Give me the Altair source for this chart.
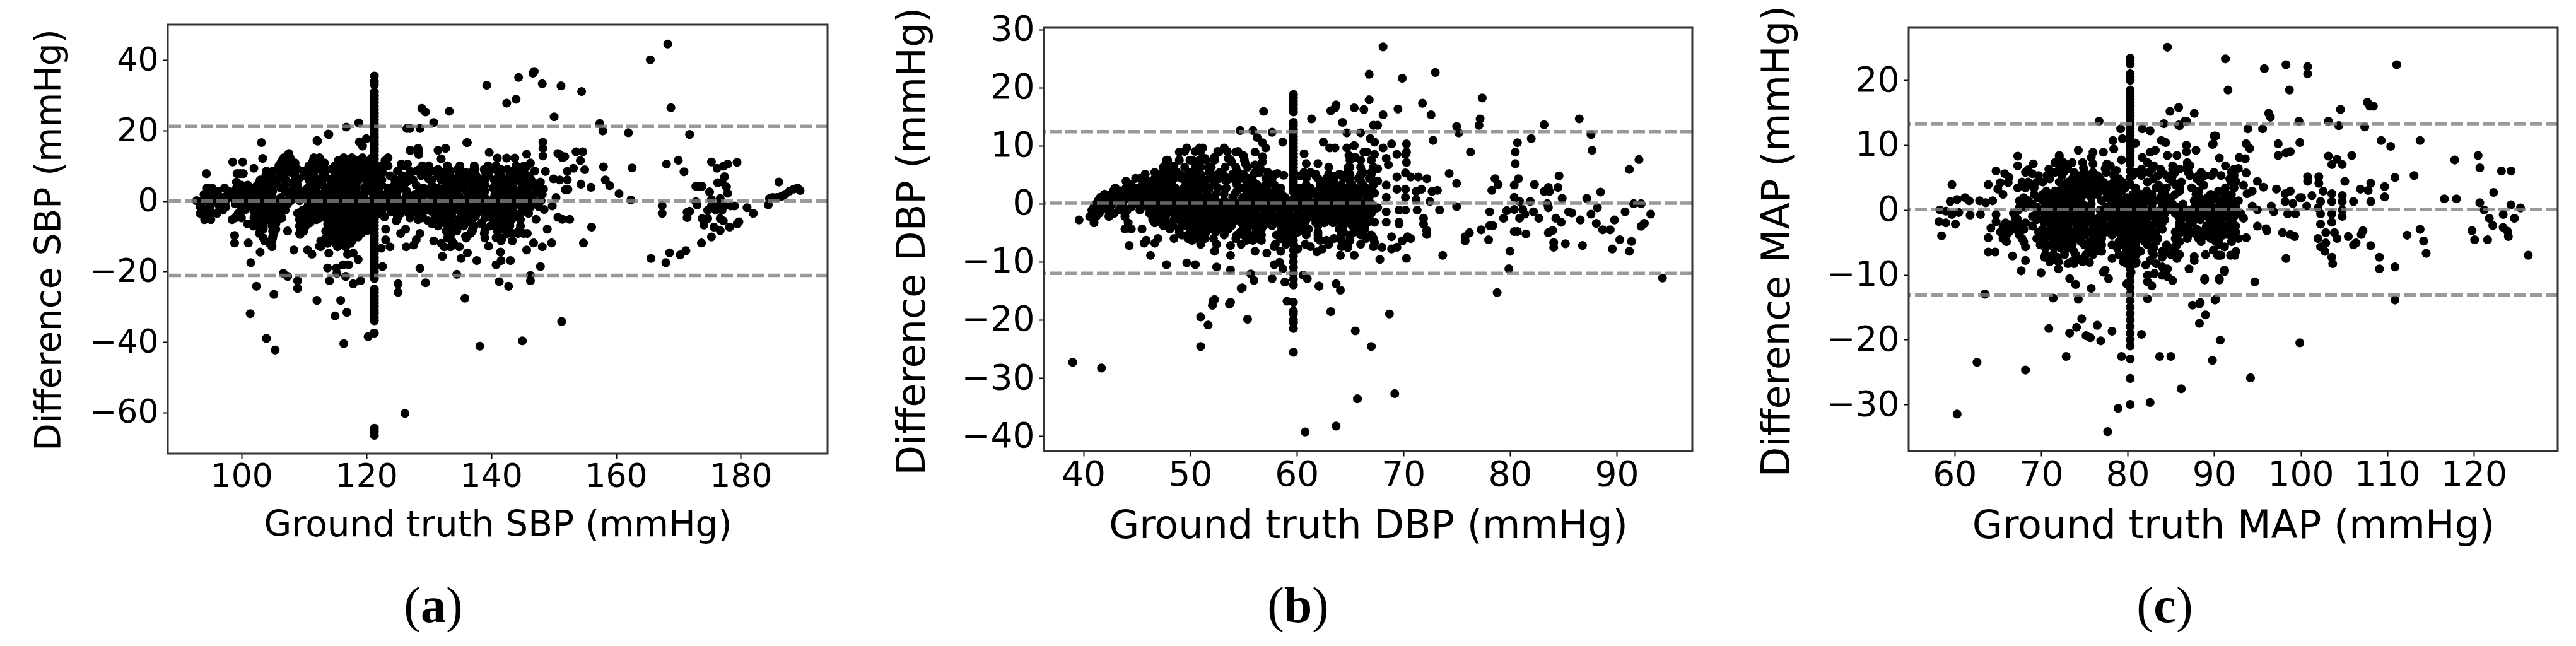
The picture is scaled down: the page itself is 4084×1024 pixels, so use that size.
import altair as alt
import pandas as pd

# ---------- panel (a) SBP ----------
sbp_lines = [21.2, 0.1, -21.1]
sbp_xticks = [100, 120, 140, 160, 180]
sbp_yticks = [-60, -40, -20, 0, 20, 40]
sbp_spike_x = 121.3
sbp_spike_y = [35.5,34,33,31,30,29,28,27,26,25,24,23,22,21,20,19,18,17,16,15,14,13,12,11,10,9,8,7,6,5,4,3,2,1,0,-1,-2,-3,-4,-5,-6,-7,-8,-9,-10,-11,-12,-13,-14,-15,-16,-17,-18,-19,-20,-21,-22,-25,-26,-27,-28,-29,-30,-31,-32,-33,-34,-37.5,-64.5,-65.5,-66.5]
sbp_upper = [(168.3,44.6),(165.5,40.1),(168.8,26.5),(139.3,32.9),(144.4,35.1),(146.7,36.3),(146.9,36.8),(148.2,33.3),(151.2,32.7),(154.5,31.1),(144,28.9),(142.5,27.8),(150.1,23.9),(128.9,26.3),(129.5,25.3),(133.3,25.5),(130.8,22.3),(126.5,20.6),(127,20.6),(128.6,20.6),(157.4,22),(157.9,19.9),(162,19.4),(171.8,18.9),(116.8,21),(118.8,22.2),(113.9,19),(112.2,17),(103.2,16.6),(136.1,16.6),(132.7,15),(131.5,14.4),(128.4,14.4),(128.4,13.2),(127.1,14.4),(148.3,16.7),(148.3,15),(148.3,12.8),(151,13.2),(151.8,12.6),(153.6,14),(154.7,14),(154.3,11.5),(155,8.9),(170,11.6),(168.1,10.5),(170.9,8.3),(162.6,9.4),(158,9.7),(158.3,6),(159,4.4),(160.5,2.1),(162.4,0.3),(156,3.9),(152.3,3.3),(154.4,4.8),(94.4,7.8),(98.6,11.1),(100.2,11.1),(99.3,7.8),(99.8,7.8),(100.3,7.8),(102,9.3),(103.4,12.1),(112.1,17.2),(114,18.9),(118.9,16.8),(119.4,15.6),(120,17.7),(127,14.4),(128.3,15),(128.3,13.5),(132.7,15),(136.2,16.6),(139.7,13.8),(132,12),(125.6,10.5),(126.6,10.5),(145.7,13.3),(143.8,12.2),(142.5,12.2),(141,12.2),(146.3,10.8),(145.2,9.9),(148.7,8.4),(150,6.3),(151,6),(150.7,13.5),(151.4,12.3),(152.2,6),(153.2,9.3),(152.2,8.4),(151.9,3.2),(148.4,3.4),(150.4,1),(149.8,-1.4),(148.5,-2.4)]
sbp_right = [(186.1,5.4),(184.4,-1.1),(184.6,0.7),(185.1,1),(185.8,1),(186.5,1.3),(187.1,1.9),(187.8,2.8),(188.5,3.4),(189.1,3.7),(189.5,3),(181,-1.9),(182,-3.5),(179.4,11),(177.9,10.5),(177.2,9.9),(176.2,9.3),(175.3,11.1),(177.4,6.9),(176.3,5.2),(177,5.4),(177.7,4),(177.9,2.2),(175,2.6),(172.8,4.2),(173.3,4.2),(173.8,4.2),(172.8,-0.2),(173,-1.1),(175.3,0.4),(176.7,0.7),(175.3,-1.4),(176.3,-1.4),(177.3,-1.4),(178.4,-1.4),(179,-1.4),(174.7,-2.6),(176,-2.6),(177,-2.6),(173.8,-5),(174.7,-5),(176.7,-5),(174.1,-6.8),(175.7,-7.4),(176.7,-8.4),(178.2,-7.4),(179.4,-6.5),(179.7,-5.9),(177.2,-5.6),(175.3,-10.2),(173.7,-11.9),(171.2,-14.1),(170.3,-15.3),(168.6,-14.7),(168,-17.5),(165.6,-16.3),(171.4,-3.2),(171.8,-2.9),(171.4,-4.7),(167.4,-1.3),(167.4,-3.5)]
sbp_lower = [(151.3,-34.2),(156.1,-7.4),(154.8,-11.9),(147.9,-18.6),(146.3,-21.1),(146.3,-22.6),(142.8,-24.2),(141.3,-22.9),(143.1,-16.9),(141.6,-16.9),(141.5,-14.5),(149.7,-11.9),(148.2,-13),(146.8,-11.9),(145.7,-13.9),(152.6,-5.2),(151.4,-5.2),(150.7,-4.6),(149,-8),(147.2,-5.2),(98.9,-9.8),(98.9,-11.9),(101.1,-11.9),(103,-14.5),(101.5,-17.5),(102.4,-24.2),(105.2,-26.5),(101.4,-32),(104,-39),(105.4,-42.3),(116.4,-40.5),(120.3,-38.5),(121.2,-37.5),(138.2,-41.2),(145,-39.7),(126.2,-60.3),(107.4,-8.5),(108.4,-13.9),(109.4,-7.4),(109.4,-9.5),(110.6,-13.9),(111.3,-15.1),(106.7,-20.5),(107.4,-21.4),(109,-22.6),(109,-24.8),(112.1,-28.2),(115.9,-28.2),(116.9,-31.6),(115,-32.6),(112.5,-12.8),(113,-11.3),(114,-14.8),(113.8,-19),(115.2,-19),(115.3,-20.5),(114.1,-22.6),(116.7,-21.4),(117.9,-23.5),(119.1,-22.6),(117,-15.1),(117.9,-14.8),(118.7,-16.6),(116.3,-18.1),(117.2,-18.1),(122.6,-18.6),(125.1,-23.5),(125.1,-25.9),(128.6,-19.1),(129.5,-23.2),(134.5,-20.8),(135.8,-27.6),(137.7,-16.9),(140.8,-18.1),(135.2,-16.3),(136.2,-14.7),(132.2,-15.7),(132.5,-13),(133.5,-13),(134.9,-13),(130.8,-11.3),(126.4,-13),(127.6,-12.5),(128,-11),(128.6,-9.2),(125.5,-9.2),(126.3,-8),(123.8,-13),(123.1,-11),(122.4,-13.4),(123.1,-8),(122.9,-4.5),(124.8,-5.6),(129.9,-5.6),(135.9,-10),(139.6,-12.8),(140.8,-10.4),(141.6,-11.3),(143.4,-11.3),(144.4,-8.5)]
sbp_levels = [13.5,12.3,10.8,9,7.2,5.4,3.7,1.9,0.1,-1.7,-3.5,-5.3,-7.1,-9.2,-11.3,-13]
sbp_rows = [
 [107.6],
 [106.8,107.8,111.6,112.5,116.4,117.7,119.4,120.9,123.5],
 [106.3,107.6,108.6,111.3,113.3,115.7,117,118.4,119.4,121.1,123.1],
 [105.9,109,110.6,112,114.4,115.4,116.7,118,119.4,120.7,122.4,128.5,129.7,131.5,134.6,137.4,138.9,140,141.6,142.6,143.8,145.3],
 [103.9,106.3,108.6,110,111.6,113.3,115,116.4,117.7,119,121.1,123.8,125.8,127,128.8,131.5,133.4,134.8,136.3,137.6,139.6,141.6,143,144,145,146],
 [99.2,102.9,104.2,105.6,108.3,111.3,114.4,115.7,117,118.4,121.1,125.1,126.5,133.4,134.6,136.6,137.9,141.3,142.3,143.6,144.7,145.7,146.7,147.9],
 [94.5,95.3,97.3,99.2,100.5,101.9,103.2,104.6,106.3,108.3,110.6,112,113.7,115,116.4,117.7,119.7,121.1,123.5,125.8,129.2,131.5,133.6,134.9,136.9,138.3,140.3,141,142.3,143.6,145,146,147.3],
 [94,94.8,97.8,99.2,100.2,101.5,103.4,104.6,108.6,110,111.3,112.7,114,115.4,116.7,118,119.4,121.1,123.1,124.5,126.5,127.8,129.5,131.2,133.2,134.6,136.6,138.3,140.6,141.6,143,144.3,145.7,147,148.2],
 [92.8,93.8,94.8,96.1,97.5,99.5,101.2,102.5,103.9,105.2,106.6,107.9,109.3,110.6,112,113.3,114.7,116,117.4,118.7,120.1,121.4,123.1,124.1,125.8,127.1,128.5,130.7,131.9,133.2,134.6,135.9,137.3,139.6,141.3,142.6,144,145.3,146.7,148],
 [93.4,94.8,96.5,97.5,100,101.5,102.9,104.2,105.6,106.9,110.6,112,113.3,114.7,116,117.4,118.7,120.1,121.4,122.8,124.1,125.5,126.8,128.2,129.2,130.9,132.2,133.6,134.9,136.3,137.6,138.9,140.6,141,142.3,143.6,145,146.3,147.7],
 [93.4,94.5,96.1,99.5,102.2,103.6,104.9,106.3,109,110.3,112,115,116.4,117.7,119,120.7,122.1,125.5,126.8,128.2,131.2,132.5,135.2,136.9,139.3,140.6,141.3,142.6,144.7,146],
 [94.1,95.1,98.5,102.9,104.2,105.9,109.3,112,114,115.4,116.7,118,119.7,121.1,128.3,131.2,133.2,136.6,140.3,141,142,143.3,144.7],
 [101.9,102.9,104.9,109.3,110.3,114.4,115.7,117,118.4,121.1,131.5,133.6,135.6,137.3,139.9,141.6,143,144.7],
 [102.9,105.2,109.3,114,115.4,116.7,118,119.2,133.6,136.7,138.9,142.6,143.5,144.3,145.2,145.8],
 [103.7,104.9,112.7,114,115.4,116.7,117.7,133.7],
 [104.9,112.7,115.4,116.7],
]
sbp_fill_levels = [8.1,6.3,4.5,2.8,1,-0.8,-2.6,-4.4,-6.2,-8,-10.2,11.5,10,8.5,6,-3,-4.8,-6.5,-8.5,-10.5,-12]
sbp_fill_rows = [
 [106.9,108,111,113,115,116,117.4,118.7,120,122.6,130,132.5,136,139.2,143,145],
 [104.5,105.2,107,109.2,112.5,114,115,116,117.4,118.7,120,122,124.5,127,130,132.3,134,136,138.6,141,142.6,144.3,146.3],
 [100,101,102.5,103.8,105,107,109,111.7,113,114.5,116,117,118.4,120,122.5,124.5,126,128,130.5,132.7,134,135.6,137,139,142,143.2,145.2,147],
 [95,96.2,98,99.8,101,102.6,103.8,105,107,108,109.6,111,112,113.4,114.8,116,117.2,118.4,120,122,123.8,125,126.5,128.5,130.5,132.5,134,136,137.5,139,141.8,143,144.5,146,147.5],
 [94.4,95.5,97,98.5,100,101,102.2,103.5,105,106.3,107.7,109,110.3,111.7,113,114.4,115.7,117,118.3,119.6,122.4,123.6,125,126.4,127.7,129,130.5,132,133.4,135,136.3,137.7,139,140.5,142,143.4,144.7,146],
 [93.5,95.2,97,99,100.5,102,103.4,104.7,106,107.4,111,112.6,114,115.4,116.7,118,119.4,122,123.4,124.8,126.2,127.5,129.7,131.5,133,134.3,135.7,137,138.4,139.8,141.8,143,144.4,145.8,147],
 [93.8,95,97,100.5,102.8,104.3,105.6,107,109.8,111.2,112.6,114,115.4,116.7,118,119.4,120.7,124.3,125.7,127.5,129.7,131.5,133,134.3,136,137.4,138.8,140,141.7,143.2,145.2],
 [94.7,99.2,103.3,105,106,110,111,112.7,114.5,115.8,117,118.4,119.7,125,127,129,131.8,133.7,135.6,137.5,139.5,141.5,143,144.2],
 [102,103,105,110,111,115,116.3,117.7,119,120.3,132.5,134,136,138.5,141,143],
 [103.5,105.5,110,114.7,116,117.4,118.7,120,134,137,142],
 [105,114.7,116,117.3,118.7],
 [106.5,107.6,111.5,112.5,115.5,116.5,117.5,118.5,119.5,120.5,123],
 [106,107,108.5,110.8,112,113.2,115,116,117,118,119,120,122.5,123.5,126,129,130,133,135,137.3,139.5,140.8,144,145.8],
 [104,105,106,108,110,111,113.5,115,116,117,118,119,120,122,125,127,128,129.5,131,133.5,135,137,139,141,143,145,147],
 [103,104.8,105.5,107,108.8,110.8,112,113,115,116.3,117.6,118.8,120,122.5,125.5,127.5,130.5,132,134,135.5,137,139,140.5,143,145,146],
 [102,103.5,105,106,109.5,111,113,114,115,116,117.5,119,120.5,122.5,124,125,127,128.5,130.5,132,133.5,135,136,138,139.5,141.5,143.5,145],
 [99,100,102,103.5,105,106.5,110,111,112.5,113.5,115,116.3,117.5,119,120.3,125,127,129,131,132.5,135,137,139,141,142.5],
 [101,103.5,105.5,110,113.8,115.2,116.4,117.7,119,120.3,130.5,133,135,137,138.5,140.8,142.5],
 [103,105,110,113.5,114.7,116,117.3,118.5,120,132.8,134.5,137,139,141,142.5],
 [103.5,105,113.5,115,116.3,118,133,136,139,141.8],
 [104.5,113.8,115,116,117.5,132,134],
]

# ---------- panel (b) DBP ----------
dbp_lines = [12.4, 0.1, -12]
dbp_xticks = [40, 50, 60, 70, 80, 90]
dbp_yticks = [-40, -30, -20, -10, 0, 10, 20, 30]
dbp_spike_x = 59.7
dbp_spike_y = [18.8,18.2,17.6,17,16.4,15.8,14,13.4,12.8,12.2,11.6,11,10.4,9.8,9.2,8.6,8,7.4,6.8,6.2,5.6,5,4.4,3.8,3.2,2.6,2,-7,-8,-9,-10,-11,-12,-13,-14,-17,-18.5,-19,-20,-20.5,-21.5,-25.6]
dbp_upper = [(68.1,27),(66.8,22.3),(73,22.6),(69.9,21.6),(66.8,17.9),(71.8,17.3),(69.5,16.3),(72.6,15.3),(68.1,15.3),(77.4,18.2),(56.9,15.9),(63.2,16),(63.6,16.5),(63.7,17),(65.4,16.5),(66.3,16.2),(61.4,14.6),(64.3,14),(67.2,13.5),(67.6,13.5),(75,13.3),(75.2,12.2),(77.1,13.5),(77.2,14.6),(83.2,13.6),(86.5,14.6),(87.6,11.9),(87.7,9.2),(82,11.2),(80.7,10.5),(80.5,8.9),(80.5,6.9),(76.3,8.9),(72.8,10.9),(70.3,10.3),(92.1,7.6),(91.2,5.9),(74.3,5.2),(75,3.5),(75,-0.5),(54.7,12.6),(55.9,12.6),(57.7,12.3),(58.7,10.6),(64.7,12.2),(66,12.2),(66.9,11.2),(62.5,10.6),(63.1,9.6),(63.6,9.6),(64.7,9.6),(65.4,10),(66.3,8.9),(64.9,8.3),(65.5,8),(64.8,6.2),(64.3,4.9),(60.7,8.6),(62,6.9),(60.9,6.9),(56.3,11.4),(56.8,10.5),(57.1,9.6),(56.1,8.9),(56.8,8.1),(56.8,7.2),(56.1,6.7),(56.6,6),(58.2,5.2),(58.8,4.9),(49,8.9),(49.7,9.6),(50.9,9.6),(51.2,9.6),(53.2,9.6),(52.7,8.9),(52.3,8),(54.3,8.9),(55,8.3),(55.2,6.9),(53.6,7.8),(53.9,7.2),(50.3,7.4),(51,7.6),(51.4,7.8),(51.8,6.2),(47.9,7.5),(47.6,6.5),(48.5,6.5),(67.3,10.6),(68.1,9.6),(68.9,10.3),(67.3,8.5),(68.4,7.8),(66.6,8.9),(69.4,8.5),(70.2,8.5),(67.6,6),(68.6,6.7),(67.6,3.9),(68.4,3.2),(67.3,1.8),(68.4,1.1),(67.6,-0.7),(68.4,-1.4),(67.3,-3.2),(68.4,-3.2)]
dbp_right = [(84.6,4.8),(78.6,4.3),(78.9,3.3),(78.3,2.3),(80.8,4.3),(80.4,3.2),(82.3,3.3),(83.6,2.8),(83.7,2.1),(83.2,2.1),(84.5,2.8),(84.9,0.9),(88.5,2),(87.2,0.9),(80.4,1.1),(80.9,0.4),(81.9,0.4),(81.2,-1),(82.2,-1.4),(80.4,-1),(81.4,-1.8),(83.5,0),(83.6,-0.7),(79.7,-1.2),(78.1,-1.4),(79.4,-2.5),(80.9,-2.5),(82.7,-2.5),(84.3,-2.5),(84.8,-3.2),(83.6,-5),(84,-4.6),(85.5,-1.4),(85.8,-1.6),(86.6,-2.8),(87.6,-1.8),(88.2,-0.7),(88.1,-3.4),(88.7,-4.5),(89.4,-4.5),(89.8,-2.8),(90.8,-1.4),(91.6,0),(92.3,0),(93.2,-1.8),(92.6,-3.4),(92.3,-3.9),(90.3,-6.2),(89.6,-7.8),(91.4,-6.5),(91.2,-8.2),(94.3,-12.8),(86.8,-7.2),(85.2,-6.9),(84.1,-6.7),(84.1,-7.5),(78.1,-3.8),(78.4,-3.8),(77.3,-4.5),(76.2,-5),(75.8,-5.7),(75.8,-6.4),(78,-6.2),(80.4,-4.8),(80.7,-4.8),(81.5,-5.2),(80,-8.2),(79.9,-11.2),(78.8,-15.3),(73.7,-8.9),(70.3,-9.4),(70.3,8.9),(70.3,7.1),(70.2,5.3),(69.4,4.6),(70.7,4.6),(71.4,4.6),(72.2,4.3),(69.4,2.5),(70.2,2.5),(71.2,2.1),(71.7,2.5),(72.7,2.1),(73.2,2.3),(70.2,1.1),(71.2,0.7),(72.5,0.4),(70.2,-1.1),(71.3,-1.1),(73.4,-1.1),(69.6,-1.1),(69.6,-3.2),(71.9,-2.5),(71.9,-3.5),(72.2,-4.6),(72.2,-5.3),(69.6,-3.5),(70.4,-5.7),(70.7,-6),(69.9,-6.4),(68.9,-5.7),(69.4,-7.5),(68.9,-7.8),(68,-7.5),(67.8,-9.6),(67.3,-6.7)]
dbp_lower = [(68.7,-19),(67,-24.6),(69.2,-32.7),(65.7,-33.6),(63.7,-38.3),(60.8,-39.3),(65.5,-21.9),(63.2,-18.6),(63.7,-13.8),(64.1,-14.9),(62.1,-14.2),(39,-27.3),(41.7,-28.3),(39.6,-2.8),(51,-24.6),(51,-19.5),(51.7,-20.9),(52.2,-16.7),(52.1,-17.5),(53.7,-17.3),(55.4,-19.9),(54.8,-14.6),(44.3,-7.2),(45.7,-6.8),(46.7,-6.8),(52.3,-8.2),(53.8,-7.2),(53.8,-8.9),(56.1,-8.2),(57.2,-8.5),(57.9,-7.4),(58.5,-8.2),(60.1,-7.8),(61.3,-7.4),(61.9,-8.3),(62.4,-7.8),(64.1,-8.9),(65.4,-8.9),(64.2,-7.4),(64.8,-7.6),(67.2,-7.4),(46.3,-8.9),(47.8,-10.5),(49.7,-10.2),(50.5,-10.5),(52.5,-10.9),(53.8,-11.4),(55.7,-12.1),(56,-13.2),(54.9,-14.5),(52.3,-16.5),(53.8,-17),(57.7,-12.9),(58.9,-13.5),(57.9,-10.5),(58.4,-10.1),(58.7,-11.2),(60.6,-12.3),(61,-12.9),(62.1,-14.2),(59.1,-16.8)]
dbp_levels = [5.4,4.35,3.26,2.2,1.1,0,-1.1,-2.2,-3.3,-4.35,-5.4,-6.3]
dbp_rows = [
 [46.7,47.7,48.8,50,50.8,51.8,52.8,54.5,56.1,56.5,57.3,60.7,61.3,64.8,66.2,67],
 [44.9,45.3,46.7,47.5,48.5,49.2,50.2,51,51.8,52.8,53.8,54.8,55.5,57.1,57.7,60.9,62,62.8,64.4,65.8,66.8],
 [44.5,45.5,46.5,47.3,48.3,49.6,50.4,51.4,52.2,54.4,55.3,56.3,57.1,57.9,59.7,60.9,62.2,63,64.2,65.2,66.2,67.2],
 [42.8,43.5,44.5,45.3,46.5,47.3,48.1,48.8,49.8,50.6,51.6,54.4,55.5,56.5,57.3,58.1,59.7,60.7,62,63,64,65,66,67],
 [41.6,42.3,43.1,43.9,44.7,45.5,46.5,47.3,48.1,48.8,49.6,50.6,51.4,52.2,54,55,55.7,56.5,57.3,58.3,58.9,59.9,60.7,62,62.8,63.8,64.8,65.8,66.8],
 [41.2,42,42.7,43.7,44.9,45.7,46.5,47.3,48.1,48.8,49.6,50.4,51.2,52,52.8,53.6,54.4,55.1,55.9,56.7,57.5,58.3,59.1,59.9,60.7,61.5,62.2,63,63.8,64.6,65.4,66.2,67],
 [40.8,41.6,42.3,43.3,44.1,45.3,46.5,47.3,48.3,49,49.8,50.6,51.4,52.2,53,53.8,54.6,55.3,56.1,56.9,57.7,58.5,59.3,60.1,60.9,61.6,62.4,63.2,64,64.8,65.6,66.4,67.2],
 [40.6,41.2,42.4,43.9,46.9,47.7,48.6,49.4,50.2,51,51.8,52.6,53.4,54.2,55,55.7,56.5,57.3,58.1,58.9,59.7,60.5,61.3,62,62.8,63.6,64.4,65.2,66,66.8],
 [41,44.2,46.7,47.3,47.9,49.2,50,50.8,51.6,52.4,53.2,54,54.8,55.5,56.3,57.1,57.9,58.7,59.5,60.3,61.8,62.6,63.4,64.2,65,65.8,66.6],
 [43.9,44.5,45.5,48.1,49,50.2,51,51.8,52.6,53.6,55.3,56.7,58.9,59.7,60.5,61.1,64,65.6,66.4],
 [49.2,49.8,50.6,51.2,53.2,54.4,55,55.6,56.7,58.1,58.9,59.7,60.9,62,64.2,65,66,67],
 [45.9,50.2,51,55.3,55.9,56.7,59.1,59.7,62.2,62.8,64.2,65],
]
dbp_fill_levels = [4.8,2.7,1.65,0.55,-0.55,-1.65,-2.75,-3.8,-4.9,9,7.5,6.3,5.1,3.9,-6,-7]
dbp_fill_rows = [
 [47.2,48.2,49.5,50.6,52.3,53.2,55,60.3,61.8,63.6,65,66],
 [43,44,45,46,47,47.8,48.6,49.4,50.2,51,51.8,52.6,53.4,54.8,55.8,56.8,58.5,60.3,61.3,62.5,63.5,64.5,65.5,66.5],
 [42,42.6,43.4,44.3,45.1,46,46.9,47.7,48.5,49.2,50,50.8,51.6,52.4,53.2,54.2,55.3,56.1,56.9,57.7,58.6,60.3,61.3,62.4,63.4,64.3,65.3,66.3],
 [41.4,42.2,43,43.8,44.6,45.4,46.1,46.9,47.7,48.5,49.2,50,50.8,51.6,52.4,53.2,54,54.8,55.5,56.3,57.1,57.9,58.7,59.5,60.3,61.1,61.9,62.6,63.4,64.2,65,65.8,66.6],
 [41,41.8,42.5,43.5,44.5,45.5,46.1,46.9,47.7,48.5,49.2,50,50.8,51.6,52.4,53.2,54,54.8,55.5,56.3,57.1,57.9,58.7,59.5,60.3,61.1,61.9,62.6,63.4,64.2,65,65.8,66.6],
 [40.9,41.5,42.9,43.9,46.2,47,47.9,48.8,49.6,50.4,51.2,52,52.8,53.6,54.4,55.3,56.1,56.9,57.7,58.5,59.3,60.1,60.9,61.6,62.4,63.2,64,64.8,65.6,66.4,67],
 [46.5,47.6,48.5,49,49.8,50.6,51.4,52.2,53,53.8,54.6,55.3,56.1,56.9,57.7,58.5,59.3,60.1,60.9,62.2,63,63.8,64.6,65.4,66.2],
 [47.5,48.4,49.6,50.6,51.4,52.2,53,53.9,55,56,56.9,57.7,58.5,59.3,60.1,60.8,62,64.4,65.2,66],
 [49,50,50.8,51.5,52.4,53.3,54.7,55.4,56.2,58.5,59.3,60.1,60.8,62,64.4,65.4,66.2],
 [49.5,50.5,51,52.6,53.5,54.5],
 [47.8,49,50,50.9,51.5,52.3,53.8,55.1,65,66,67],
 [47.5,48.3,49.5,50.5,51,52,53.3,54.3,55.4,63,65,66,67.2],
 [45.8,47,48,49,50,51,52,53,54,55,56,58,61,61.8,63,64,65,66,67],
 [44,46,47,48,49.8,50.9,52.4,53.4,54.3,55.9,57.5,62.5,63.5,65,66,67.5],
 [47,48.5,49.8,50.5,51.4,52.2,54.3,55.3,56.4,58.5,62,63.5,65,66.5,67.2],
 [51,52.5,54.8,58,59,60.8,63,64.8,66],
]

# ---------- panel (c) MAP ----------
map_lines = [13.3, 0.1, -13.1]
map_xticks = [60, 70, 80, 90, 100, 110, 120]
map_yticks = [-30, -20, -10, 0, 10, 20]
map_spike_x = 80.3
map_spike_y = [23.4,23,22.5,21,20.5,20,18.5,18,17.5,17,16.5,16,15.5,15,14.5,14,13.5,13,12.5,12,11.5,11,10.5,10,9.5,9,8.5,8,7.5,7,6,5,4,-5,-6,-7,-8,-9,-10,-11,-12,-13,-14,-15,-16,-17,-18,-19,-20,-21,-23,-26,-30]
map_upper = [(84.6,25.1),(91.3,23.3),(95.8,21.8),(98.3,22.4),(100.8,22.1),(100.8,21),(111.1,22.4),(91.6,18.5),(98.7,18.5),(96.3,14.9),(96.5,14.3),(99.8,13.7),(84.9,15.2),(85.9,15.8),(87.7,14.9),(86.8,13.7),(86,13),(104.6,15.5),(103.2,13.7),(104.4,13),(107.7,16.6),(108,16),(108.4,16),(107.4,12.8),(93.9,12.5),(95.6,12.5),(109.3,10.7),(110.4,9.8),(113.8,10.7),(117.8,7.7),(120.5,8.4),(120.7,6.5),(123.2,6),(124.3,6),(122.3,2.7),(110.9,5),(113.1,5.3),(109.7,3.6),(109.7,2),(116.6,1.7),(118,1.7),(105.9,8.4),(103.2,8.3),(104.2,7.8),(104.8,7),(103.6,7),(102.1,5.1),(100.8,5.1),(100.8,4.4),(102.1,4.1),(99.9,10.4),(97.4,10.2),(98.3,8.8),(97.4,8.4),(98.8,9),(93.7,10.2),(94.1,9.5),(93.6,7.9),(89.9,10.2),(90.2,11.4),(76.7,13.7),(79.2,12.5),(81.7,12.5),(82.6,12.2),(84.2,13.3),(85.9,13.1),(86.6,13.7),(78.3,10.7),(79.4,11),(80.9,10.3),(83.9,10.7),(84.4,10.4),(86.8,10),(86.8,9),(87.9,9.2),(90,11.4),(89.8,10.1),(83.2,9.2),(82.6,8.9),(84.6,8.4),(85.7,8.4),(81.7,8.1),(90.6,8),(91.3,6.8),(92.9,8.1),(74.3,9.2),(72.1,8.4),(76,8.9),(77.2,8.9),(78.4,9.4),(75.8,8.1),(76,7.1),(74.8,7.3),(74.9,6.5),(77.6,7.1),(77.4,6.4),(78.7,6.1),(79.3,7.7),(67.3,8.3),(67.3,6.8),(69.1,7.1),(68.5,6.2),(69,5.6),(64.8,6),(65.8,5.6),(66.3,5),(66.2,4.2),(65.3,4.2),(65,3.2),(65.6,2.4),(59.7,3.9),(63.9,3.9)]
map_left = [(59.5,1.3),(60.3,1.6),(61.2,1.9),(61.7,1.4),(58.3,0),(59,-0.2),(59.7,-0.7),(60.5,-0.4),(61.8,-0.8),(63,-0.7),(62.9,1.4),(63.6,1.1),(64.4,1.4),(58.2,-1.8),(59,-2),(60.1,-2.2),(58.5,-4),(64.8,-0.7),(64.8,-1.8),(64.2,-2.8),(63.9,-4.3)]
map_right = [(120.7,1.1),(121.2,0),(121.8,-1.3),(122.2,-2.4),(121.6,-4.6),(123.4,-0.7),(124.3,0.8),(125.4,0.3),(119.8,-3.2),(120.1,-4.6),(123.4,-2.7),(123.9,-3.3),(124,-4.1),(124.7,-1.3),(126.3,-7),(112.3,-3.9),(113.8,-3),(114.2,-4.8),(114.5,-6.7),(109.1,-7.3),(109.1,-9.1),(110.9,-8.8),(110.9,-13.9),(108.1,-5.5),(107,-3.8),(107.2,-3.2),(106.1,-5.4),(106.4,-5.1),(105.1,4.4),(106.9,3.2),(107.8,3),(108.1,4.1),(108.1,1.3),(96,-2.9),(96.1,-3.2),(97.9,-3.5),(98.8,-3.8),(96.9,-0.3),(98.5,-0.6),(99.4,-0.6),(98.2,1.3),(99.1,1),(99.9,1.9),(98.2,2.5),(98.8,2.9),(100.1,1.9),(101.3,2.2),(102.6,2.9),(100.7,0.6),(102,0.3),(103.6,2.5),(104.8,2.2),(102.3,1.3),(103.6,1.3),(104.8,1.3),(106.1,1.3),(102.3,-0.6),(103.6,-0.6),(104.8,0),(103.6,-1.9),(104.8,-1),(102.3,-2.2),(102.9,-3.5),(103.9,-3.5),(102,-4.4),(102.9,-5.1),(104.2,-4.4),(105.5,-4.1),(102.3,-5.7),(102.8,-6.4),(103.6,-7.3),(103.7,-8.3),(91.2,2.5),(92.5,4.4),(93.4,3.8),(92.1,5.7),(92.8,6.4),(93.7,5.7),(95,4.4),(95.7,3.5),(94.4,2.9),(97.2,3.2),(93.8,2.5),(92.5,1.3),(94.4,0.6),(96.6,0.6),(91.5,0),(93.1,-0.6),(95,0),(92.1,-1.9),(93.4,-1.3),(95,-2.5),(91.5,-3.8),(92.8,-4.4),(93.7,-4.3),(92.5,-6.4),(91.2,-5.7),(91.9,-7),(90.6,-7),(98.3,-7.5),(99.3,-4.1)]
map_lower = [(99.9,-20.5),(94.2,-25.9),(86.2,-27.6),(90.7,-20.1),(89.8,-23.2),(83.7,-22.6),(85,-22.6),(82.6,-29.7),(78.9,-30.6),(77.7,-34.2),(60.3,-31.5),(62.6,-23.5),(68.2,-24.7),(72.9,-22.6),(79.3,-22.6),(70.9,-18.3),(76.9,-20.2),(75.2,-19.4),(75.7,-19.7),(73.3,-19),(74.7,-16.8),(74.1,-18.1),(76.5,-17.8),(78.2,-18.7),(81.6,-19.2),(88.3,-17.5),(89,-16.2),(87.5,-14.7),(88.3,-14.5),(90.1,-13.9),(94.7,-11.1),(88.9,-10.8),(90.6,-10.8),(91.2,-9.5),(63.9,-6.5),(64.7,-6.5),(66.7,-7.1),(68.2,-5.7),(68.2,-7.8),(67.7,-9.4),(70,-9.7),(72,-9.1),(73.3,-10.6),(74,-11.5),(75.8,-12.1),(63.5,-13),(71.4,-13.6),(74.3,-13.8),(77.4,-9.3),(77.8,-10.6),(75.6,-8.1),(78.2,-7.5),(79.9,-11.4),(82.3,-11.1),(82.8,-11.7),(82.3,-13.7),(82.1,-8.5),(82.6,-7.8),(83.3,-8.3),(84,-8.8),(84.6,-9.1),(82.3,-10.1),(83.1,-9.8),(84,-10.1),(84.6,-10.3),(85.2,-10.9),(85.7,-6.7),(85.7,-7.5),(87.7,-7.2),(87.7,-7.8),(87.1,-9.1),(88.9,-10.6),(91.2,-9.3),(90.6,-10.6),(90.2,-13.8),(88.4,-14.3),(89.9,-6.2),(90.4,-7),(90.8,-7),(92.4,-7),(84.3,-6.5),(84.5,-5.5),(85.7,-5.2)]
map_levels = [8.2,7.3,6.3,5.3,4.3,3.4,2.4,1.4,0.4,-0.5,-1.5,-2.5,-3.4,-4.4,-5.4,-6.4,-7.3,-8.3,-9.6]
map_rows = [
 [72.1],
 [71.6,72.6,73.6,82.3,86.9],
 [70.9,72.1,73.1,81.6,82.8,83.8,85.2,86,86.9,92.3],
 [69.7,70.7,72.4,74.3,75.5,76.5,78.4,80.6,81.6,83.5,84.5,85.2,87.2,88.2,88.9,89.7,90.8,92.3],
 [67.8,68.5,69.5,70.2,72.1,73.1,74.3,75.3,76.3,77.2,78.4,79.4,82.3,85.2,86.2,88.4,92],
 [67.3,68.2,69.2,72.4,73.3,74.3,75.3,76.3,77.2,78.2,79.7,80.9,83.3,84.5,86,87.4,91.3,92.3],
 [69.2,70.2,71.2,72.1,73.1,74.1,75,76.5,78,78.9,80.6,81.6,82.8,84.3,85.5,87.9,89.6,91.1,92],
 [67.5,68.5,70.2,71.2,72.1,73.1,74.1,77,78.2,79.4,80.4,81.4,82.3,83.1,84.3,87.7,88.7,89.6,90.6,91.6,92.8],
 [67.5,68.2,69.5,70.4,71.4,72.4,73.3,74.3,75.3,77.5,78.7,79.7,80.6,81.8,82.8,84.5,85.7,87.7,89.1,90.4,91.6,92.5],
 [66.8,69.5,70.4,71.4,72.4,73.3,74.3,75.3,77.5,78.4,79.4,80.4,81.4,82.3,83.3,84.3,85.5,86.5,87.4,88.4,89.4,90.4,91.8,92.8],
 [67.3,69.5,70.2,71.4,72.4,73.3,74.3,75.3,76.3,77.2,78.2,79.2,80.1,81.1,82.1,83.5,84.3,86.2,87.2,88.4,89.6,90.8,91.8],
 [65.6,66.5,67.5,69,71.2,72.1,73.1,74.1,75,76,77,78,78.9,79.9,80.9,81.8,82.8,83.8,86,86.9,89.1,90.1,91.3,92.5],
 [65.3,66.3,67.5,69.7,70.7,71.6,72.6,73.6,74.6,75.5,76.5,77.5,78.4,79.4,80.4,81.4,82.3,83.3,85.5,86.5,87.4,88.4,89.4,90.4,91.6,92.5],
 [65.6,67.8,69.5,70.4,71.4,72.4,73.3,74.3,76.3,77,79.4,80.4,81.6,82.6,83.5,85.5,86.9,88.2,89.6,90.6,92.3],
 [69.9,70.9,71.9,72.6,73.6,75,76,77,78.2,79.4,80.4,82.3,84.5,85.7,90.6],
 [72.7,73.8,76.3,77,79.9,80.6,81.5,82.8,84],
 [70.4,71.2,71.9,74.1,75,79.9,80.6,84],
 [73.1,73.8,79.9,80.9],
 [77.2,80.4],
]
map_fill_levels = [4.8,3.8,2.9,1.9,0.9,0,-1,-2,-3,-3.9,-4.9,-5.9,6.8,5.8,-6.9,-8]
map_fill_rows = [
 [71,73.6,74.8,75.8,76.8,79,83,84.8,88,91.8],
 [68.9,72.6,73.7,74.8,75.8,76.8,77.8,78.9,80,83.6,85.6,88.8],
 [70.6,71.6,72.6,73.6,74.6,75.6,76.6,77.4,78.4,79.3,81,82.2,84,86,88.2,90.5],
 [68,69.6,70.7,71.6,72.6,73.6,74.6,75.8,77.6,78.7,79.9,81,81.9,82.8,83.8,85,88.3,89.2,90.1,91.2],
 [68,69,70.9,71.9,72.9,73.9,74.8,75.8,78.1,79.1,80.1,80.9,81.8,82.8,84,85.2,86.4,88.4,89.6,90.8,92],
 [67.4,69.9,70.9,71.9,72.9,73.9,74.8,75.8,76.8,78,79,79.9,80.9,81.9,82.8,83.8,84.8,86,87,88,89,90,91.2,92.3],
 [67,69,70.9,71.9,72.9,73.9,74.8,75.8,76.8,77.8,78.7,79.7,80.7,81.7,82.6,83.8,85.9,86.8,87.9,89.2,90.2,91.2,92.3],
 [65.9,66.9,68.2,70.4,71.2,72.2,73.2,74.2,75.2,76.2,77.2,78.2,79.2,80.2,81.2,82.2,83.2,84,86,87.5,89.6,90.6,92],
 [65.9,67,68,70.2,71.2,72.2,73.1,74.1,75,76,77,77.9,78.9,79.9,80.9,81.9,82.8,84,86,87,88,89,90,91,92],
 [66,67.5,70,71,72,73,74,75,76,77,78.2,79.2,80.2,81.2,82.2,83.2,85.8,87,88,89,90,91],
 [66,68,70.2,71.4,72.4,73.4,74.6,75.6,76.6,79,80,81,82,83.3,86,88.5,90.2,92],
 [70.5,71.5,72.3,73.3,75.5,76.7,78.8,79.9,81,83,85.3],
 [72.6,73.1,78,83,85.2,86.9,87.2],
 [68.2,71,71.6,72.6,73.8,75,76,77.5,78.5,81,82.5,84,85.5,87,88.5,90,92],
 [70.5,71.4,72.7,74,75.2,76,79,81,83,85,86,89],
 [71,72,73.5,74.8,79.5,81],
]


def pts(*groups):
    out = []
    for g in groups:
        out.extend(g)
    return out


def rows_to_pts(levels, rows):
    return [(x, y) for y, r in zip(levels, rows) for x in r]


def panel(points, lines, xdom, ydom, xticks, yticks, xtitle, ytitle, w, h, top,
          tick_fs, title_fs, title_y, ytp, letter, cap_x, cap_y, half):
    df = pd.DataFrame(points, columns=["x", "y"])
    xs = alt.Scale(domain=xdom, nice=False, zero=False)
    ys = alt.Scale(domain=ydom, nice=False, zero=False, range=[h, top])
    xax = alt.Axis(values=xticks, grid=False, domain=False, tickSize=8, tickWidth=2, tickColor="#000",
                   labelFont="DejaVu Sans", labelFontSize=tick_fs, labelColor="#000", labelPadding=3,
                   titleFont="DejaVu Sans", titleFontSize=title_fs, titleFontWeight="normal", titleColor="#000", titlePadding=23, labelFlush=False)
    yax = alt.Axis(values=yticks, grid=False, domain=False, tickSize=8, tickWidth=2, tickColor="#000",
                   labelFont="DejaVu Sans", labelFontSize=tick_fs, labelColor="#000", labelPadding=7,
                   titleFont="DejaVu Sans", titleFontSize=title_fs, titleFontWeight="normal", titleColor="#000",
                   titlePadding=ytp, titleY=title_y)
    dots = alt.Chart(df).mark_circle(size=200, color="#000", opacity=1).encode(
        x=alt.X("x:Q", scale=xs, axis=xax, title=xtitle),
        y=alt.Y("y:Q", scale=ys, axis=yax, title=ytitle),
    )
    rules = alt.Chart(pd.DataFrame({"v": lines})).mark_rule(
        color="gray", opacity=0.8, strokeWidth=5.5, strokeDash=[19, 6]
    ).encode(y=alt.Y("v:Q", scale=ys, title=ytitle))
    blank = alt.Data(values=[{}])
    frame = alt.Chart(blank).mark_rect(filled=False, stroke="#333", strokeWidth=3).encode(
        x=alt.value(0), x2=alt.value(w), y=alt.value(top), y2=alt.value(h))
    capl = alt.Chart(blank).mark_text(text="(", font="Liberation Serif", fontSize=80, align="right", baseline="middle", color="#000").encode(
        x=alt.value(cap_x - half), y=alt.value(cap_y))
    capm = alt.Chart(blank).mark_text(text=letter, font="Liberation Serif", fontSize=80, fontWeight="bold", align="center", baseline="middle", color="#000").encode(
        x=alt.value(cap_x), y=alt.value(cap_y))
    capr = alt.Chart(blank).mark_text(text=")", font="Liberation Serif", fontSize=80, align="left", baseline="middle", color="#000").encode(
        x=alt.value(cap_x + half), y=alt.value(cap_y))
    return alt.layer(dots, rules, frame, capl, capm, capr).properties(width=w, height=h)


a_pts = pts(sbp_upper, sbp_right, sbp_lower, rows_to_pts(sbp_levels, sbp_rows), rows_to_pts(sbp_fill_levels, sbp_fill_rows), [(sbp_spike_x, v) for v in sbp_spike_y])
b_pts = pts(dbp_upper, dbp_right, dbp_lower, rows_to_pts(dbp_levels, dbp_rows), rows_to_pts(dbp_fill_levels, dbp_fill_rows), [(dbp_spike_x, v) for v in dbp_spike_y])
c_pts = pts(map_upper, map_left, map_right, map_lower, rows_to_pts(map_levels, map_rows), rows_to_pts(map_fill_levels, map_fill_rows), [(map_spike_x, v) for v in map_spike_y])

pa = panel(a_pts, sbp_lines, [88.2, 193.9], [-71.7, 50.1], sbp_xticks, sbp_yticks,
           "Ground truth SBP (mmHg)", "Difference SBP (mmHg)", 1046, 680, 0, 52, 56.5, 341, 34, "a", 421, 923, 20)
pb = panel(b_pts, dbp_lines, [36.3, 97.1], [-42.6, 30.3], dbp_xticks, dbp_yticks,
           "Ground truth DBP (mmHg)", "Difference DBP (mmHg)", 1028, 676, 5, 55, 62, 343, 45, "b", 403, 923, 22)
pc = panel(c_pts, map_lines, [54.7, 129.7], [-37.2, 28.1], map_xticks, map_yticks,
           "Ground truth MAP (mmHg)", "Difference MAP (mmHg)", 1029, 676, 5, 55, 62, 343, 45, "c", 406, 923, 18)

chart = alt.hconcat(pa, pb, pc, spacing=100).properties(padding={"left": 42, "top": 0, "right": 0, "bottom": 0}).configure_view(strokeWidth=0)
chart.save("out.html", embed_options={"renderer": "svg", "actions": False})
